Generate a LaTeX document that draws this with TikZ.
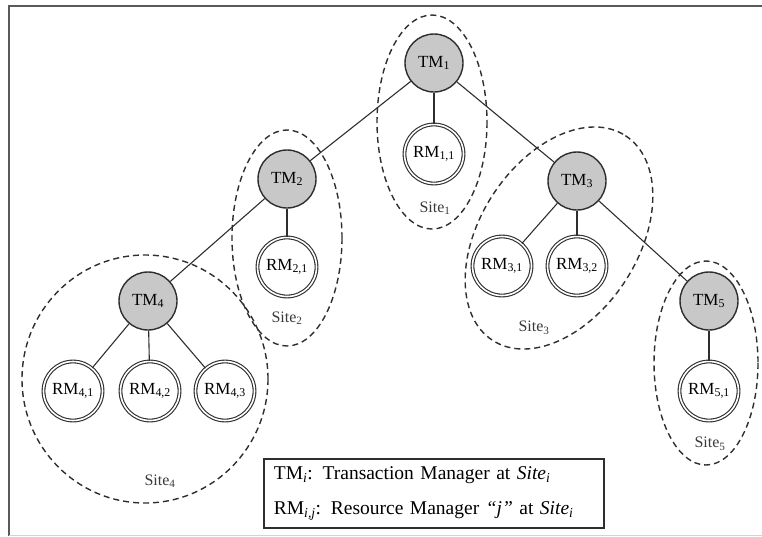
\documentclass[tikz,border=0pt]{standalone}
\usepackage{fontspec}
\setmainfont{Liberation Serif}
\usetikzlibrary{positioning}
\definecolor{InkGray}{HTML}{2E2E2E}
\definecolor{ManagerFill}{HTML}{C8C8C8}
\definecolor{FrameGray}{HTML}{5A5A5A}
\definecolor{PaleGray}{HTML}{D2D2D2}
\definecolor{SiteText}{HTML}{3A3A3A}

\begin{document}
\begin{tikzpicture}[
  x=1pt,
  y=-1pt,
  tm/.style={circle,draw=InkGray,fill=ManagerFill,line width=1.4pt,
    minimum size=58pt,inner sep=0pt,font=\fontsize{17}{17}\selectfont},
  rm/.style={circle,draw=InkGray,double=white,double distance=1.6pt,
    line width=1.1pt,fill=white,minimum size=59pt,inner sep=0pt,
    font=\fontsize{17}{17}\selectfont},
  link/.style={draw=InkGray,line width=1.1pt},
  site/.style={draw=InkGray,line width=1.4pt,dash pattern=on 6pt off 4pt},
  site label/.style={font=\fontsize{16}{16}\selectfont,text=SiteText,inner sep=0pt},
  key/.style={draw=InkGray,line width=1.8pt,anchor=north west,
    minimum width=340pt,minimum height=69pt,inner xsep=10pt,
    text width=320pt,align=left,font=\fontsize{19.5}{35}\selectfont}
]
  \useasboundingbox (0,0) rectangle (762,536);
  \draw[FrameGray,line width=2.5pt] (9,536) -- (9,6) -- (762,6);
  \draw[PaleGray,line width=1pt] (9,535) -- (762,535);

  \node[tm] (tm1) at (434,63) {TM\textsubscript{1}};
  \node[tm] (tm2) at (287,179) {TM\textsubscript{2}};
  \node[tm] (tm3) at (577,181) {TM\textsubscript{3}};
  \node[tm] (tm4) at (148,301) {TM\textsubscript{4}};
  \node[tm] (tm5) at (709,301) {TM\textsubscript{5}};

  \node[rm] (rm11) at (434,154) {RM\textsubscript{1,1}};
  \node[rm] (rm21) at (287,267) {RM\textsubscript{2,1}};
  \node[rm] (rm31) at (502,266) {RM\textsubscript{3,1}};
  \node[rm] (rm32) at (577,266) {RM\textsubscript{3,2}};
  \node[rm] (rm41) at (73,391) {RM\textsubscript{4,1}};
  \node[rm] (rm42) at (150,391) {RM\textsubscript{4,2}};
  \node[rm] (rm43) at (225,391) {RM\textsubscript{4,3}};
  \node[rm] (rm51) at (709,391) {RM\textsubscript{5,1}};

  \draw[link] (tm1) -- (tm2);
  \draw[link] (tm1) -- (tm3);
  \draw[link] (tm1) -- (rm11);
  \draw[link] (tm2) -- (rm21);
  \draw[link] (tm2) -- (tm4);
  \draw[link] (tm3) -- (rm31);
  \draw[link] (tm3) -- (rm32);
  \draw[link] (tm3) -- (tm5);
  \draw[link] (tm4) -- (rm41);
  \draw[link] (tm4) -- (rm42);
  \draw[link] (tm4) -- (rm43);
  \draw[link] (tm5) -- (rm51);

  \draw[site] (432,122) ellipse [x radius=55, y radius=107];
  \draw[site] (287,238) ellipse [x radius=55, y radius=108];
  \draw[site,rotate around={57:(559,238)}] (559,238) ellipse [x radius=122, y radius=79];
  \draw[site] (145,379) ellipse [x radius=123, y radius=124];
  \draw[site] (706,363) ellipse [x radius=52, y radius=102];

  \node[site label] (s1) at (435,208) {Site\textsubscript{1}};
  \node[site label] (s2) at (287,318) {Site\textsubscript{2}};
  \node[site label] (s3) at (534,328) {Site\textsubscript{3}};
  \node[site label] (s4) at (160,481) {Site\textsubscript{4}};
  \node[site label] (s5) at (710,444) {Site\textsubscript{5}};

  \node[key] (legend) at (263,458) {TM\textsubscript{\textit{i}}: Transaction Manager at \textit{Site}\textsubscript{\textit{i}}\\
    RM\textsubscript{\textit{i,j}}: Resource Manager \textit{``j''} at \textit{Site}\textsubscript{\textit{i}}};
\end{tikzpicture}
\end{document}
